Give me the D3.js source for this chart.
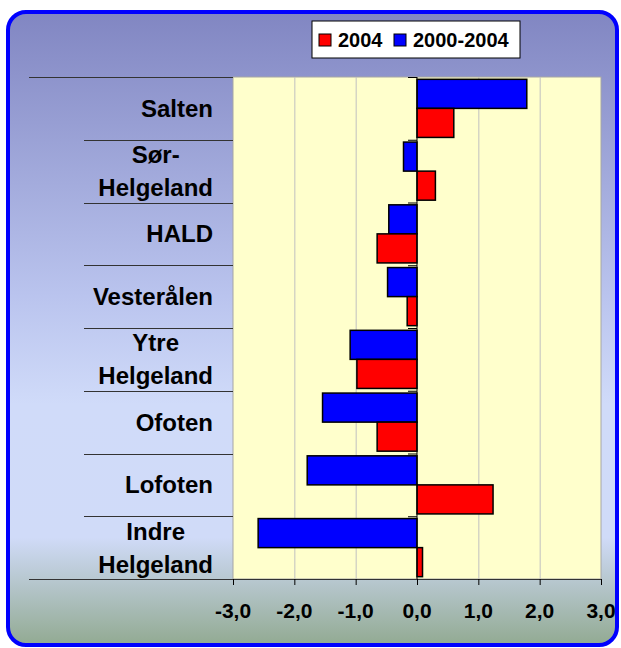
<!DOCTYPE html>
<html>
<head>
<meta charset="utf-8">
<script src="https://cdn.jsdelivr.net/npm/d3@7/dist/d3.min.js"></script>
<style>
  body { margin: 0; background: #fff; }
  text { font-family: "Liberation Sans", Arial, sans-serif; font-weight: bold; fill: #000; }
</style>
</head>
<body>
<div class="vis"></div>
<script>
// chart data, top to bottom
const regions = [["Salten"], ["Sør-", "Helgeland"], ["HALD"], ["Vesterålen"],
    ["Ytre", "Helgeland"], ["Ofoten"], ["Lofoten"], ["Indre", "Helgeland"]];
const regionKeys = regions.map(d => d.join(" "));
const v2004 = [0.6, 0.3, -0.65, -0.16, -0.98, -0.65, 1.24, 0.09];
const v2000_2004 = [1.79, -0.22, -0.46, -0.48, -1.09, -1.54, -1.79, -2.59];
const xTicks = [-3, -2, -1, 0, 1, 2, 3];
const seriesNames = ["2004", "2000-2004"];
const seriesColors = ["#ff0000", "#0000ff"];

const width = 621, height = 648,
    plot = {left: 233, right: 601, top: 77, bottom: 579};

const svg = d3.select(".vis")
    .append("svg")
    .attr("width", width)
    .attr("height", height)

let defs = svg.append("defs")
let grad = defs.append("linearGradient")
    .attr("id", "bg")
    .attr("x1", 0).attr("y1", 0).attr("x2", 0).attr("y2", 1)
grad.append("stop").attr("offset", "0%").attr("stop-color", "#8186c2")
grad.append("stop").attr("offset", "45%").attr("stop-color", "#bac4ee")
grad.append("stop").attr("offset", "62%").attr("stop-color", "#d0dbf9")
grad.append("stop").attr("offset", "83%").attr("stop-color", "#d0dbf8")
grad.append("stop").attr("offset", "100%").attr("stop-color", "#92aa92")

// outer frame
svg.append("rect")
    .attr("x", 8).attr("y", 12)
    .attr("width", 609).attr("height", 633)
    .attr("rx", 18).attr("ry", 18)
    .style("fill", "url(#bg)")
    .style("stroke", "#0000ff")
    .style("stroke-width", 4)

const x = d3.scaleLinear().domain([-3, 3]).range([plot.left, plot.right]);
const y = d3.scaleBand().domain(regionKeys).range([plot.top, plot.bottom]);
const inner = d3.scaleBand().domain(["2000-2004", "2004"])
    .range([0, y.bandwidth()]).paddingOuter(0.08);

// plot area
svg.append("rect")
    .attr("x", plot.left).attr("y", plot.top)
    .attr("width", plot.right - plot.left).attr("height", plot.bottom - plot.top)
    .style("fill", "#ffffcc")
    .style("stroke", "#a6a6a6")

// gridlines
svg.append("g")
    .selectAll("line")
    .data(xTicks.filter(d => d !== 0 && Math.abs(d) < 3))
    .join("line")
    .attr("x1", d => x(d) + 0.5).attr("x2", d => x(d) + 0.5)
    .attr("y1", plot.top).attr("y2", plot.bottom)
    .style("stroke", "#c0c0c0")

// bars
const series = [
    {name: "2000-2004", values: v2000_2004, color: seriesColors[1]},
    {name: "2004", values: v2004, color: seriesColors[0]}
];
series.forEach(s => {
    svg.append("g")
        .selectAll("rect")
        .data(s.values)
        .join("rect")
        .attr("x", d => x(Math.min(0, d)))
        .attr("y", (d, i) => y(regionKeys[i]) + inner(s.name))
        .attr("width", d => Math.abs(x(d) - x(0)))
        .attr("height", inner.bandwidth())
        .style("fill", s.color)
        .style("stroke", "#000")
        .style("stroke-width", 1.5)
});

// vertical axis at zero with ticks on category boundaries
svg.append("line")
    .attr("x1", x(0)).attr("x2", x(0))
    .attr("y1", plot.top).attr("y2", plot.bottom)
    .style("stroke", "#000")
svg.append("g")
    .selectAll("line")
    .data(regionKeys)
    .join("line")
    .attr("x1", x(0) - 9).attr("x2", x(0))
    .attr("y1", d => y(d) + 0.5).attr("y2", d => y(d) + 0.5)
    .style("stroke", "#000")

// category separators in label area
const bounds = regionKeys.map(d => y(d)).concat([plot.bottom]);
svg.append("g")
    .selectAll("line")
    .data(bounds)
    .join("line")
    .attr("x1", (d, i) => (i === 0 || i === bounds.length - 1) ? 29 : 84)
    .attr("x2", (d, i) => i === bounds.length - 1 ? plot.right : plot.left)
    .attr("y1", d => Math.round(d) + 0.5).attr("y2", d => Math.round(d) + 0.5)
    .style("stroke", "#333")
    .style("stroke-width", 1.2)

// category labels (lines centred on each other, block right aligned)
let labels = svg.append("g")
    .selectAll("text")
    .data(regions)
    .join("text")
    .style("font-size", "24px")
    .attr("text-anchor", "middle")
labels.each(function (lines, i) {
    let t = d3.select(this);
    let cy = y(regionKeys[i]) + y.bandwidth() / 2;
    lines.forEach((ln, j) => {
        t.append("tspan")
            .attr("x", 0)
            .attr("y", cy + 8.5 + (j - (lines.length - 1) / 2) * 33)
            .text(ln)
    })
    let w = this.getBBox().width;
    t.selectAll("tspan").attr("x", 213 - w / 2)
});

// x axis ticks and labels
svg.append("g")
    .selectAll("line")
    .data(xTicks)
    .join("line")
    .attr("x1", d => x(d) + 0.5).attr("x2", d => x(d) + 0.5)
    .attr("y1", plot.bottom).attr("y2", plot.bottom + 6)
    .style("stroke", "#000")
svg.append("g")
    .selectAll("text")
    .data(xTicks)
    .join("text")
    .attr("x", d => x(d))
    .attr("y", 618)
    .attr("text-anchor", "middle")
    .style("font-size", "21px")
    .text(d => d3.format(".1f")(d).replace(".", ",").replace("−", "-"))

// legend
let legend = svg.append("g").attr("transform", "translate(312 21)")
legend.append("rect")
    .attr("width", 208).attr("height", 37)
    .style("fill", "#fff")
    .style("stroke", "#000")
const legendX = [7, 82];
seriesNames.forEach((name, i) => {
    legend.append("rect")
        .attr("x", legendX[i]).attr("y", 13)
        .attr("width", 12).attr("height", 12)
        .style("fill", seriesColors[i])
        .style("stroke", "#000")
    legend.append("text")
        .attr("x", legendX[i] + 19).attr("y", 26)
        .style("font-size", "20px")
        .text(name)
});
</script>
</body>
</html>
